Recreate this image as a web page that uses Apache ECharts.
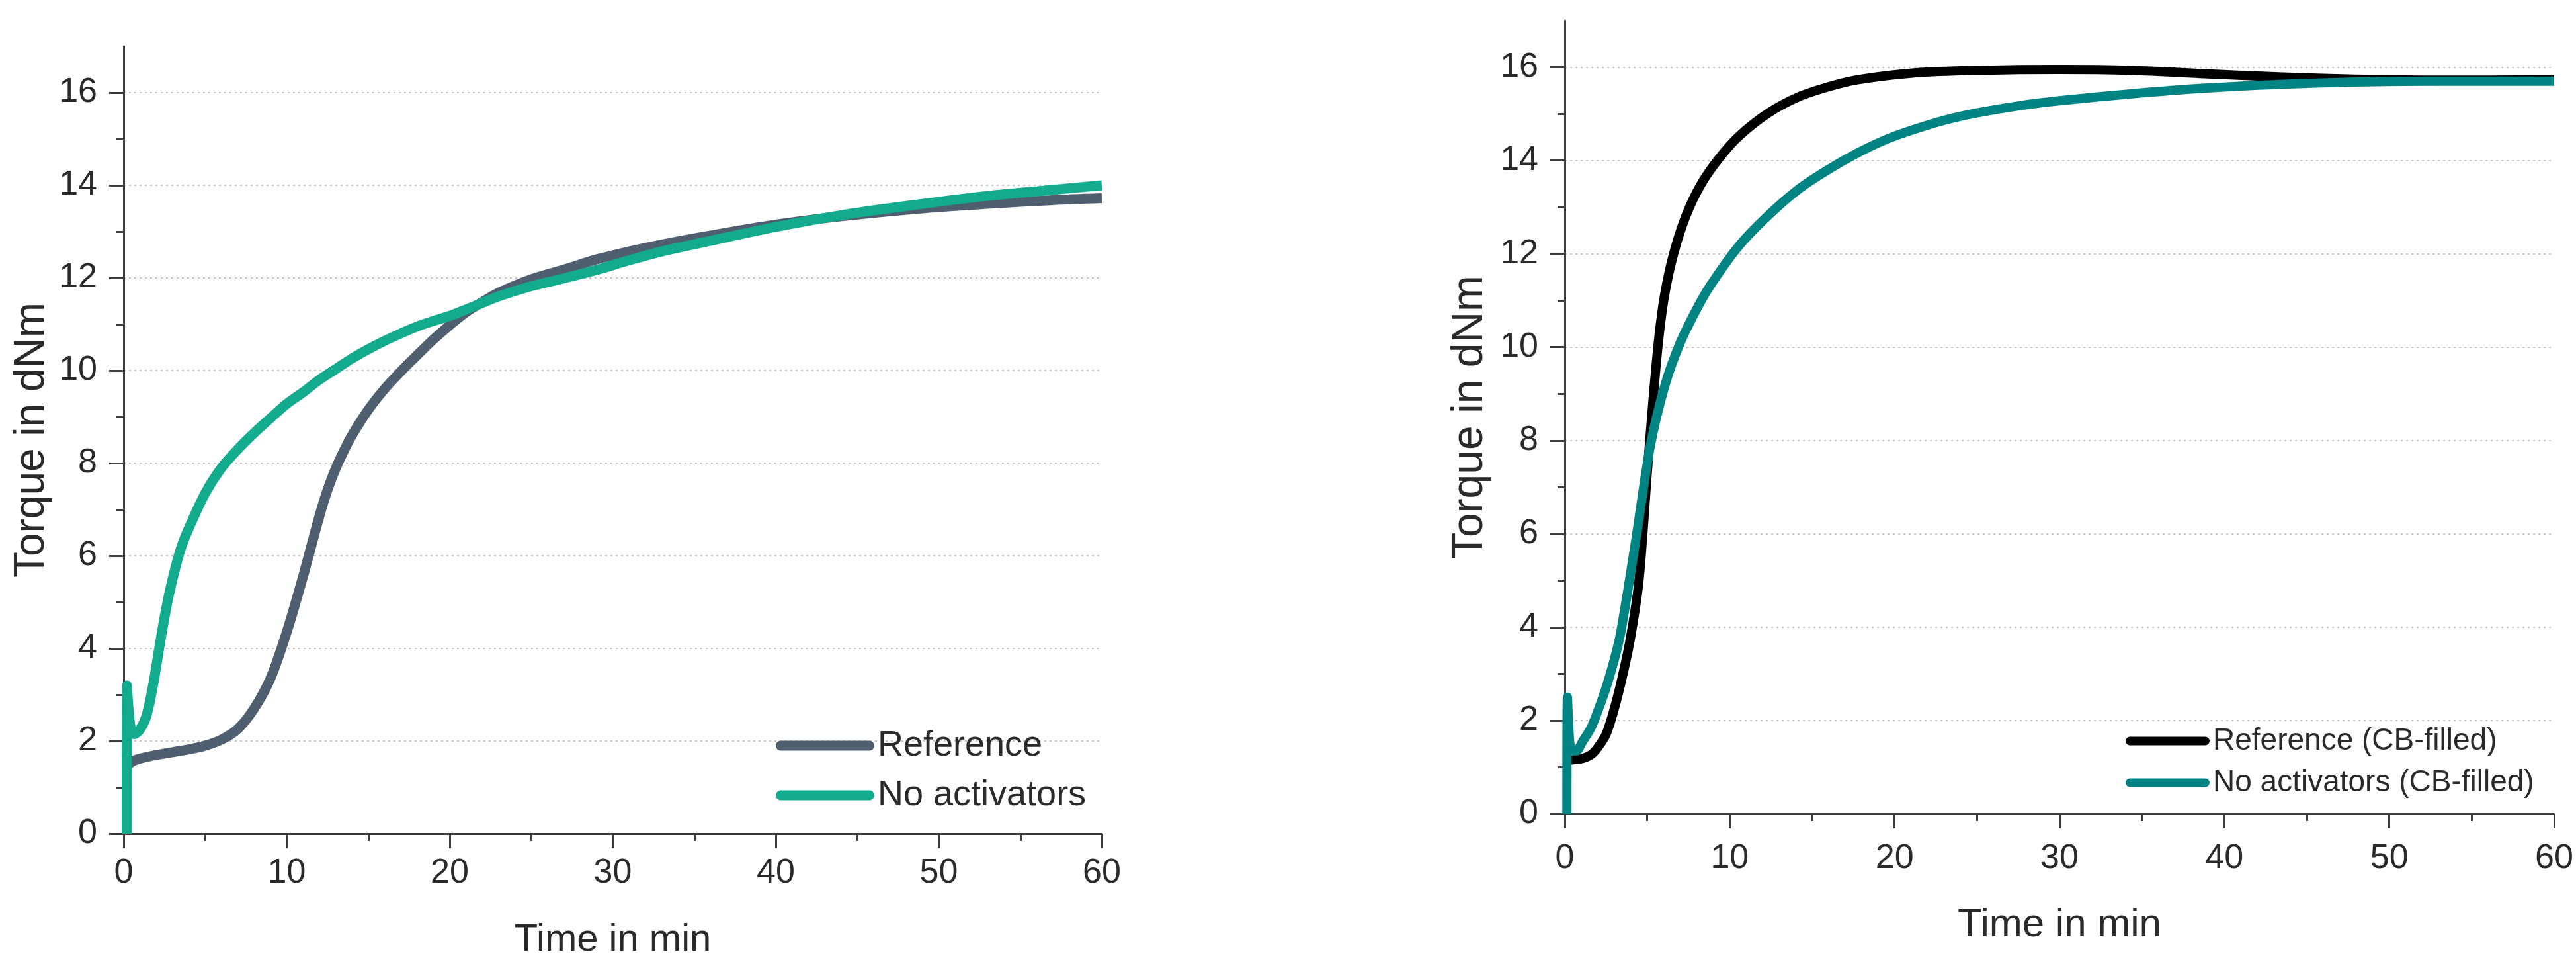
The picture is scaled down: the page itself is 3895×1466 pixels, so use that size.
<!DOCTYPE html>
<html>
<head>
<meta charset="utf-8">
<script src="https://cdn.jsdelivr.net/npm/echarts@6/dist/echarts.min.js"></script>
<style>
html,body{margin:0;padding:0;background:#fff;}
#chart{width:3895px;height:1466px;}
</style>
</head>
<body>
<div id="chart"></div>
<script>
// ---- Left panel: unfilled compounds ----
var leftRefTime = [0.3, 0.6, 1, 2, 3, 4, 5, 6, 7, 8, 9, 10, 11, 12, 12.5, 13, 13.5, 14, 15, 16, 17, 18, 19, 20, 21, 22, 23, 25, 27, 29, 31, 33, 35.6, 40, 44, 48.6, 53, 57, 60];
var leftRefTorque = [1.5, 1.57, 1.62, 1.7, 1.76, 1.82, 1.9, 2.03, 2.26, 2.7, 3.35, 4.35, 5.55, 6.85, 7.42, 7.88, 8.26, 8.6, 9.15, 9.6, 9.98, 10.33, 10.67, 10.98, 11.26, 11.48, 11.68, 11.97, 12.18, 12.4, 12.57, 12.72, 12.89, 13.15, 13.33, 13.49, 13.6, 13.68, 13.72];
var leftNoActTime = [0.18, 0.2, 0.4, 0.65, 1.0, 1.4, 1.8, 2.2, 2.6, 3.0, 3.5, 4, 5, 6, 7, 8, 9, 10, 11, 12, 13, 14, 15, 16, 17, 18, 19, 20, 21, 22, 23, 25, 27, 29, 31, 33, 35.6, 40, 44.3, 48.6, 53, 57.3, 60];
var leftNoActTorque = [0, 3.2, 2.35, 2.15, 2.25, 2.55, 3.2, 4.05, 4.85, 5.5, 6.15, 6.6, 7.35, 7.9, 8.3, 8.65, 8.97, 9.28, 9.53, 9.8, 10.03, 10.26, 10.46, 10.64, 10.8, 10.95, 11.07, 11.18, 11.32, 11.46, 11.6, 11.82, 11.99, 12.17, 12.38, 12.57, 12.77, 13.1, 13.37, 13.58, 13.77, 13.91, 14.0];

// ---- Right panel: CB-filled compounds ----
var rightRefTime = [0.25, 1, 1.6, 2, 2.5, 3, 3.5, 4, 4.5, 5, 5.36, 5.72, 6.07, 6.6, 7.33, 8.23, 9.3, 10.56, 12.36, 14.16, 16, 17.75, 21.3, 25, 30, 34.4, 38.8, 43.3, 47.9, 52.4, 56, 60];
var rightRefTorque = [1.15, 1.18, 1.27, 1.42, 1.7, 2.25, 2.95, 3.8, 5.0, 7.3, 8.9, 10.25, 11.15, 12.0, 12.8, 13.47, 14.02, 14.52, 15.02, 15.36, 15.58, 15.73, 15.88, 15.93, 15.95, 15.93, 15.86, 15.79, 15.74, 15.72, 15.72, 15.73];
var rightNoActTime = [0.13, 0.16, 0.4, 0.7, 1.08, 1.6, 2, 2.5, 3, 3.4, 4.3, 5.18, 6.08, 6.97, 7.87, 8.77, 10.56, 12.36, 14.16, 15.95, 17.75, 19.55, 21.3, 23.1, 25, 27.5, 30, 34.4, 38.8, 43.3, 47.9, 52.4, 60];
var rightNoActTorque = [0, 2.5, 1.35, 1.35, 1.55, 1.85, 2.2, 2.7, 3.3, 3.9, 5.85, 7.87, 9.19, 10.07, 10.73, 11.29, 12.17, 12.83, 13.38, 13.8, 14.16, 14.46, 14.68, 14.87, 15.02, 15.17, 15.28, 15.43, 15.55, 15.63, 15.68, 15.7, 15.7];

var seriesNames = ['Reference', 'No activators', 'Reference (CB-filled)', 'No activators (CB-filled)'];
var xTickValues = [0, 10, 20, 30, 40, 50, 60];
var yTickValues = [0, 2, 4, 6, 8, 10, 12, 14, 16];
var xAxisTitle = 'Time in min';
var yAxisTitle = 'Torque in dNm';

function zip(t, v) { return t.map(function (x, i) { return [x, v[i]]; }); }

var FONT = 'Liberation Sans';
var AX = '#3c3c3c';
var TXT = '#2a2a2a';

function xAxisCfg(gridIndex, nameSize, nameGap, labelMargin) {
  return {
    type: 'value', gridIndex: gridIndex, min: 0, max: 60, interval: 10,
    name: xAxisTitle, nameLocation: 'middle', nameGap: nameGap,
    nameTextStyle: { fontFamily: FONT, fontSize: nameSize, color: TXT },
    axisLine: { show: true, lineStyle: { color: AX, width: 3 } },
    axisTick: { show: true, inside: false, length: 22, lineStyle: { color: AX, width: 3 } },
    minorTick: { show: true, splitNumber: 2, length: 11, lineStyle: { color: AX, width: 3 } },
    axisLabel: { fontFamily: FONT, fontSize: 52, color: TXT, margin: labelMargin, customValues: xTickValues },
    splitLine: { show: false }
  };
}
function yAxisCfg(gridIndex, nameSize, nameGap) {
  return {
    type: 'value', gridIndex: gridIndex, min: 0, max: 17, interval: 2,
    name: yAxisTitle, nameLocation: 'middle', nameGap: nameGap, nameRotate: 90,
    nameTextStyle: { fontFamily: FONT, fontSize: nameSize, color: TXT },
    axisLine: { show: true, lineStyle: { color: AX, width: 3 } },
    axisTick: { show: true, inside: false, length: 22, lineStyle: { color: AX, width: 3 }, customValues: yTickValues },
    minorTick: { show: true, splitNumber: 2, length: 11, lineStyle: { color: AX, width: 3 } },
    axisLabel: { fontFamily: FONT, fontSize: 52, color: TXT, margin: 40, customValues: yTickValues },
    splitLine: { show: true, lineStyle: { color: '#c4c4c4', width: 2, type: [3, 5] } }
  };
}
function lineSeries(name, data, color, xi, width) {
  return {
    type: 'line', name: name, data: data, xAxisIndex: xi, yAxisIndex: xi,
    showSymbol: false, smooth: 0.3, color: color,
    lineStyle: { color: color, width: width, join: 'round' }, clip: true, z: 3
  };
}

var chart = echarts.init(document.getElementById('chart'), null, { renderer: 'canvas' });
chart.setOption({
  animation: false,
  backgroundColor: '#ffffff',
  grid: [
    { left: 187, top: 70, width: 1479, height: 1190 },
    { left: 2366, top: 31, width: 1496, height: 1199 }
  ],
  xAxis: [xAxisCfg(0, 58, 132, 34), xAxisCfg(1, 60, 138, 42)],
  yAxis: [yAxisCfg(0, 64, 107), yAxisCfg(1, 66, 110)],
  legend: [
    {
      data: [seriesNames[0], seriesNames[1]], orient: 'vertical', left: 1168, top: 1094,
      itemWidth: 149, itemHeight: 15, itemGap: 19, itemTextGap: 10,
      icon: 'path://M7.5,0H141.5A7.5,7.5,0,0,1,141.5,15H7.5A7.5,7.5,0,0,1,7.5,0Z',
      textStyle: { fontFamily: FONT, fontSize: 54, lineHeight: 56, color: TXT }
    },
    {
      data: [seriesNames[2], seriesNames[3]], orient: 'vertical', left: 3209, top: 1091,
      itemWidth: 127, itemHeight: 13, itemGap: 15, itemTextGap: 9,
      icon: 'path://M6.5,0H120.5A6.5,6.5,0,0,1,120.5,13H6.5A6.5,6.5,0,0,1,6.5,0Z',
      textStyle: { fontFamily: FONT, fontSize: 46, lineHeight: 48, color: TXT }
    }
  ],
  series: [
    lineSeries(seriesNames[0], zip(leftRefTime, leftRefTorque), '#4f5f70', 0, 15),
    lineSeries(seriesNames[1], zip(leftNoActTime, leftNoActTorque), '#12ab8e', 0, 15),
    lineSeries(seriesNames[2], zip(rightRefTime, rightRefTorque), '#000000', 1, 14),
    lineSeries(seriesNames[3], zip(rightNoActTime, rightNoActTorque), '#008483', 1, 14)
  ]
});
</script>
</body>
</html>
